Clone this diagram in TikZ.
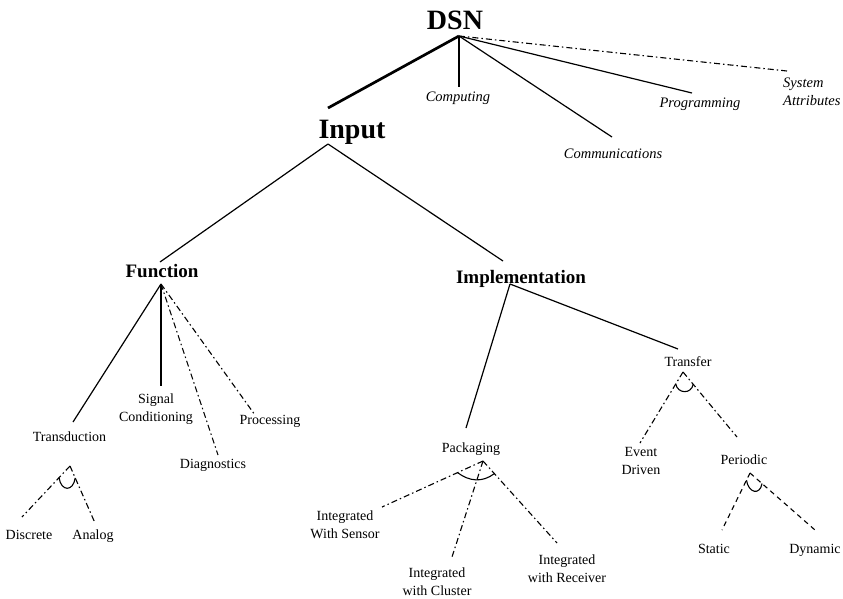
\documentclass[tikz,border=0pt]{standalone}
\usepackage{fontspec}
\setmainfont{Liberation Serif}
\usetikzlibrary{calc}
\begin{document}
\begin{tikzpicture}[x=1pt,y=-1pt,
  lbl/.style={inner sep=0pt, anchor=base, align=center, font=\fontsize{14}{17.5}\selectfont},
  ital/.style={inner sep=0pt, anchor=base, align=center, font=\fontsize{14.5}{18}\selectfont\itshape},
  head/.style={inner sep=0pt, anchor=base, font=\fontsize{19}{22}\selectfont\bfseries},
  toplbl/.style={inner sep=0pt, anchor=base, font=\fontsize{28}{32}\selectfont\bfseries},
  edge/.style={line width=1.2pt},
  heavy/.style={line width=2.7pt},
  dashdot/.style={line width=1.1pt, dash pattern=on 6pt off 3pt on 1.5pt off 3pt},
  dashline/.style={line width=1.1pt, dash pattern=on 5pt off 4pt},
  cup/.style={line width=1.1pt}
]
\useasboundingbox (0,0) rectangle (843,598);

% --- top level
\node[toplbl] (dsn) at (455,29) {DSN};
\coordinate (dsnA) at (459,36);

\node[toplbl] (input) at (352,138) {Input};
\coordinate (inputT) at (328,108);
\coordinate (inputA) at (328,144);

\node[ital] (comp) at (458,101) {Computing};
\coordinate (compT) at (459,87);
\node[ital] (comm) at (613,158) {Communications};
\coordinate (commT) at (612,137);
\node[ital] (prog) at (700,107) {Programming};
\coordinate (progT) at (692,93);
\node[ital, align=left, anchor=base west] (sys) at (783,105) {System\\Attributes};
\coordinate (sysT) at (787,71);

\draw[heavy] (dsnA) -- (inputT);
\draw[edge] (dsnA) -- (compT);
\draw[edge] (dsnA) -- (commT);
\draw[edge] (dsnA) -- (progT);
\draw[dashdot] (dsnA) -- (sysT);

% --- input subtree
\node[head] (func) at (162,277) {Function};
\coordinate (funcT) at (160,262);
\coordinate (funcA) at (161,284);
\node[head] (impl) at (521,283) {Implementation};
\coordinate (implT) at (503,261);
\coordinate (implA) at (510,284);

\draw[edge] (inputA) -- (funcT);
\draw[edge] (inputA) -- (implT);

% --- function subtree
\node[lbl] (trans) at (69.5,441) {Transduction};
\coordinate (transT) at (73,422);
\coordinate (transA) at (70,466);
\node[lbl] (sig) at (156,421) {Signal\\Conditioning};
\coordinate (sigT) at (161,386);
\node[lbl] (diag) at (213,468) {Diagnostics};
\coordinate (diagT) at (218,455);
\node[lbl] (proc) at (270,424) {Processing};
\coordinate (procT) at (255,415);

\draw[edge] (funcA) -- (transT);
\draw[edge] (funcA) -- (sigT);
\draw[dashdot] (funcA) -- (diagT);
\draw[dashdot] (funcA) -- (procT);

\node[lbl] (disc) at (29,539) {Discrete};
\coordinate (discT) at (22,517);
\node[lbl] (analog) at (93,539) {Analog};
\coordinate (analogT) at (95,523);

\draw[dashdot] (transA) -- (discT);
\draw[dashdot] (transA) -- (analogT);
\draw[cup] ($(transA)!16pt!(discT)$) .. controls +(2,14) and +(-2,14) .. ($(transA)!13pt!(analogT)$);

% --- implementation subtree
\node[lbl] (pack) at (471,452) {Packaging};
\coordinate (packT) at (466,428);
\coordinate (packA) at (483,461);
\node[lbl] (transf) at (688,366) {Transfer};
\coordinate (transfT) at (678,349);
\coordinate (transfA) at (683,372);

\draw[edge] (implA) -- (packT);
\draw[edge] (implA) -- (transfT);

\node[lbl] (sens) at (345,538) {Integrated\\With Sensor};
\coordinate (sensT) at (382,507);
\node[lbl] (clus) at (437,595) {Integrated\\with Cluster};
\coordinate (clusT) at (452,557);
\node[lbl] (recv) at (567,582) {Integrated\\with Receiver};
\coordinate (recvT) at (557,543);

\draw[dashdot] (packA) -- (sensT);
\draw[dashdot] (packA) -- (clusT);
\draw[dashdot] (packA) -- (recvT);
\draw[cup] ($(packA)!28pt!(sensT)$) .. controls +(12,9) and +(-12,9) .. ($(packA)!17pt!(recvT)$);

\node[lbl] (event) at (641,474) {Event\\Driven};
\coordinate (eventT) at (640,443);
\node[lbl] (period) at (744,464) {Periodic};
\coordinate (periodT) at (737,437);
\coordinate (periodA) at (750,473);

\draw[dashdot] (transfA) -- (eventT);
\draw[dashdot] (transfA) -- (periodT);
\draw[cup] ($(transfA)!14pt!(eventT)$) .. controls +(2,10) and +(-2,10) .. ($(transfA)!16pt!(periodT)$);

\node[lbl] (static) at (714,553) {Static};
\coordinate (staticT) at (722,530);
\node[lbl] (dyn) at (815,553) {Dynamic};
\coordinate (dynT) at (815,530);

\draw[dashline] (periodA) -- (staticT);
\draw[dashline] (periodA) -- (dynT);
\draw[cup] ($(periodA)!8pt!(staticT)$) .. controls +(2,13) and +(-2,12) .. ($(periodA)!16pt!(dynT)$);
\end{tikzpicture}
\end{document}
